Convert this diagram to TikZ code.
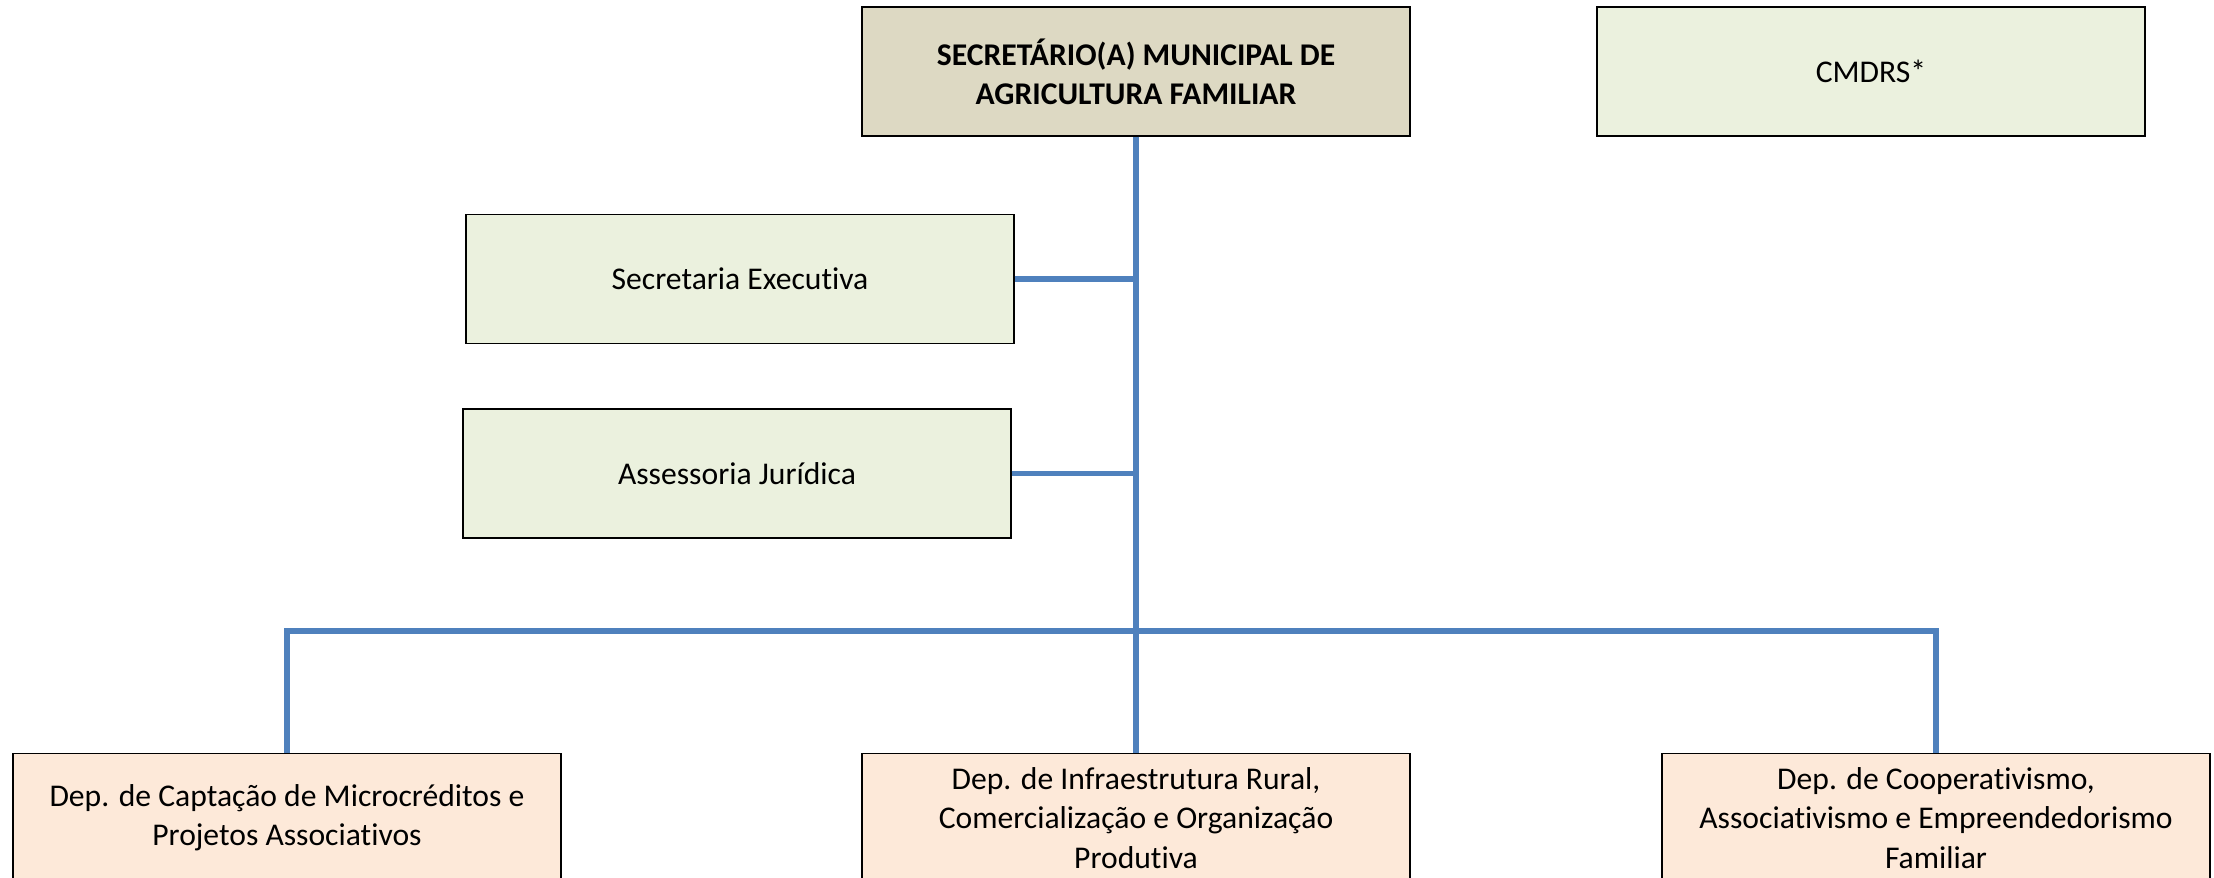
\documentclass[tikz,border=0pt]{standalone}
\usepackage{fontspec}
\setmainfont[Ligatures=NoCommon]{Carlito}
\usetikzlibrary{positioning}

\definecolor{chefe}{HTML}{DDD9C3}
\definecolor{apoio}{HTML}{EBF1DE}
\definecolor{depto}{HTML}{FDE9D9}
\definecolor{linha}{HTML}{4F81BD}

\begin{document}
\begin{tikzpicture}[
    x = 0.02cm,
    y = -0.02cm,
    font = \fontsize{18}{22.3}\selectfont,
    ]

    \tikzstyle{caixa}=[
    draw = black,
    line width = 0.8pt,
    minimum width = 10.96cm,
    minimum height = 2.58cm,
    align = center,
    inner sep = 2pt,
    ]
    \tikzstyle{liga}=[
    draw = linha,
    line width = 3.2pt,
    ]

    \useasboundingbox (0,0) rectangle (2214,877);

    \node[caixa, fill=chefe] (sec) at (1136,71.5) {\textbf{SECRETÁRIO(A) MUNICIPAL DE}\\\textbf{AGRICULTURA FAMILIAR}};
    \node[caixa, fill=apoio] (cmdrs) at (1871,71.5) {CMDRS*};
    \node[caixa, fill=apoio] (exec) at (740,279) {Secretaria Executiva};
    \node[caixa, fill=apoio] (jur) at (737,473.5) {Assessoria Jurídica};

    \node[caixa, fill=depto] (dep1) at (287,818) {Dep. de Captação de Microcréditos e\\Projetos Associativos};
    \node[caixa, fill=depto] (dep2) at (1136,818) {Dep. de Infraestrutura Rural,\\Comercialização e Organização\\Produtiva};
    \node[caixa, fill=depto] (dep3) at (1936,818) {Dep. de Cooperativismo,\\Associativismo e Empreendedorismo\\Familiar};

    \coordinate (bus) at (1136,631);

    \path[liga] (sec.south) -- (dep2.north);
    \path[liga] (exec.east) -- (exec.east -| sec.south);
    \path[liga] (jur.east) -- (jur.east -| sec.south);
    \path[liga] (dep1.north) |- (bus) -| (dep3.north);
  \end{tikzpicture}
\end{document}
